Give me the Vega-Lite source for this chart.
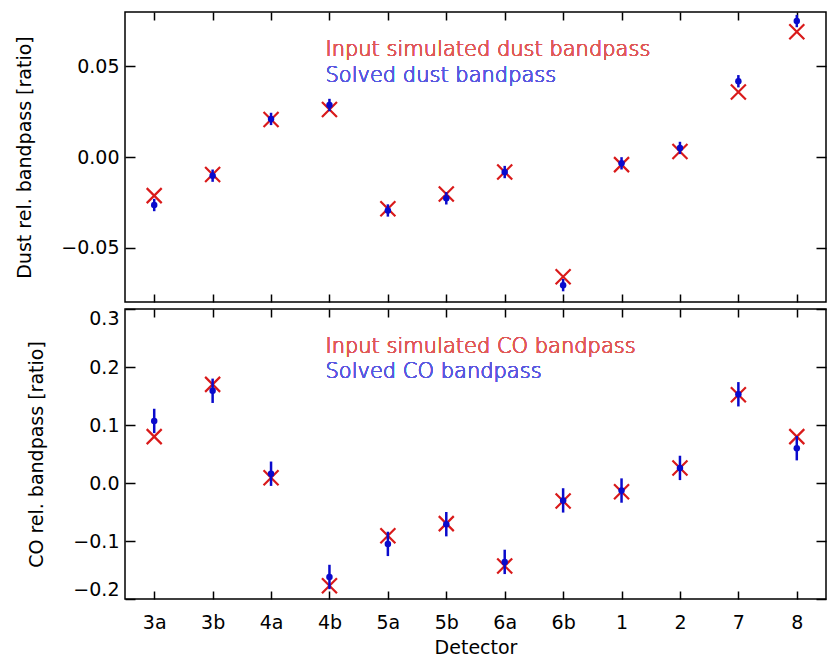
{
  "$schema": "https://vega.github.io/schema/vega-lite/v6.json",
  "padding": {"left": 15, "top": 10, "right": 4, "bottom": 4},
  "background": "white",
  "config": {
    "font": "DejaVu Sans",
    "view": {"stroke": "black", "strokeWidth": 1.5},
    "axis": {
      "grid": false, "domain": false,
      "tickColor": "black", "tickWidth": 1.5,
      "labelColor": "black", "titleColor": "black",
      "labelFontSize": 19, "titleFontSize": 19, "titleFontWeight": "normal",
      "labelFont": "DejaVu Sans", "titleFont": "DejaVu Sans",
      "minExtent": 0
    }
  },
  "datasets": {
    "dust": [
      {"det": "3a", "input": -0.0213, "solved": -0.0265, "lo": -0.0299, "hi": -0.0231},
      {"det": "3b", "input": -0.0097, "solved": -0.0103, "lo": -0.0137, "hi": -0.0069},
      {"det": "4a", "input": 0.0207, "solved": 0.0210, "lo": 0.0176, "hi": 0.0244},
      {"det": "4b", "input": 0.0262, "solved": 0.0287, "lo": 0.0253, "hi": 0.0321},
      {"det": "5a", "input": -0.0285, "solved": -0.0295, "lo": -0.0329, "hi": -0.0261},
      {"det": "5b", "input": -0.0204, "solved": -0.0228, "lo": -0.0262, "hi": -0.0194},
      {"det": "6a", "input": -0.0083, "solved": -0.0083, "lo": -0.0117, "hi": -0.0049},
      {"det": "6b", "input": -0.0661, "solved": -0.0707, "lo": -0.0741, "hi": -0.0673},
      {"det": "1", "input": -0.0042, "solved": -0.0035, "lo": -0.0069, "hi": -0.0001},
      {"det": "2", "input": 0.0030, "solved": 0.0050, "lo": 0.0016, "hi": 0.0084},
      {"det": "7", "input": 0.0359, "solved": 0.0418, "lo": 0.0384, "hi": 0.0452},
      {"det": "8", "input": 0.0691, "solved": 0.0750, "lo": 0.0716, "hi": 0.0784}
    ],
    "co": [
      {"det": "3a", "input": 0.080, "solved": 0.107, "lo": 0.086, "hi": 0.128},
      {"det": "3b", "input": 0.170, "solved": 0.159, "lo": 0.138, "hi": 0.180},
      {"det": "4a", "input": 0.009, "solved": 0.016, "lo": -0.005, "hi": 0.037},
      {"det": "4b", "input": -0.177, "solved": -0.162, "lo": -0.183, "hi": -0.141},
      {"det": "5a", "input": -0.091, "solved": -0.105, "lo": -0.126, "hi": -0.084},
      {"det": "5b", "input": -0.070, "solved": -0.071, "lo": -0.092, "hi": -0.050},
      {"det": "6a", "input": -0.143, "solved": -0.136, "lo": -0.157, "hi": -0.115},
      {"det": "6b", "input": -0.031, "solved": -0.030, "lo": -0.051, "hi": -0.009},
      {"det": "1", "input": -0.015, "solved": -0.013, "lo": -0.034, "hi": 0.008},
      {"det": "2", "input": 0.026, "solved": 0.026, "lo": 0.005, "hi": 0.047},
      {"det": "7", "input": 0.152, "solved": 0.153, "lo": 0.132, "hi": 0.174},
      {"det": "8", "input": 0.080, "solved": 0.060, "lo": 0.039, "hi": 0.081}
    ]
  },
  "resolve": {"scale": {"y": "independent"}},
  "spacing": 3,
  "vconcat": [
    {
      "width": 701, "height": 290,
      "data": {"name": "dust"},
      "resolve": {"axis": {"x": "independent", "y": "independent"}},
      "layer": [
        {
          "mark": {"type": "point", "shape": "M-1,-1L1,1M1,-1L-1,1", "filled": false, "stroke": "#d91a1a", "strokeWidth": 2.2, "size": 225, "opacity": 1},
          "encoding": {
            "x": {"field": "det", "type": "ordinal", "scale": {"type": "point", "padding": 0.5, "domain": ["3a","3b","4a","4b","5a","5b","6a","6b","1","2","7","8"]},
                  "axis": {"orient": "bottom", "labels": false, "title": null, "tickSize": -8, "minExtent": 0, "maxExtent": 0}},
            "y": {"field": "input", "type": "quantitative", "scale": {"domain": [-0.08, 0.08], "nice": false, "zero": false},
                  "axis": {"orient": "left", "title": "Dust rel. bandpass [ratio]", "values": [-0.05, 0, 0.05], "format": ".2f", "tickSize": -10, "labelPadding": 16, "titlePadding": 26}}
          }
        },
        {
          "mark": {"type": "rule", "color": "#0a0acc", "strokeWidth": 2.5},
          "encoding": {
            "x": {"field": "det", "type": "ordinal", "scale": {"type": "point", "padding": 0.5, "domain": ["3a","3b","4a","4b","5a","5b","6a","6b","1","2","7","8"]},
                  "axis": {"orient": "top", "labels": false, "title": null, "tickSize": -8, "minExtent": 0, "maxExtent": 0}},
            "y": {"field": "lo", "type": "quantitative", "scale": {"domain": [-0.08, 0.08], "nice": false, "zero": false},
                  "axis": {"orient": "right", "labels": false, "title": null, "values": [-0.05, 0, 0.05], "tickSize": -10, "minExtent": 0, "maxExtent": 0}},
            "y2": {"field": "hi"}
          }
        },
        {
          "mark": {"type": "circle", "color": "#0a0acc", "size": 42, "opacity": 1},
          "encoding": {
            "x": {"field": "det", "type": "ordinal", "scale": {"type": "point", "padding": 0.5, "domain": ["3a","3b","4a","4b","5a","5b","6a","6b","1","2","7","8"]}, "axis": null},
            "y": {"field": "solved", "type": "quantitative", "scale": {"domain": [-0.08, 0.08], "nice": false, "zero": false}, "axis": null}
          }
        },
        {
          "mark": {"type": "text", "text": "Input simulated dust bandpass", "color": "#e05858", "font": "DejaVu Sans ExtraLight, DejaVu Sans", "fontSize": 21, "fontWeight": 200, "align": "left", "baseline": "alphabetic", "dx": -4},
          "encoding": {
            "x": {"datum": "4b", "type": "ordinal", "scale": {"type": "point", "padding": 0.5, "domain": ["3a","3b","4a","4b","5a","5b","6a","6b","1","2","7","8"]}, "axis": null},
            "y": {"datum": 0.0556, "type": "quantitative", "scale": {"domain": [-0.08, 0.08], "nice": false, "zero": false}, "axis": null}
          }
        },
        {
          "mark": {"type": "text", "text": "Solved dust bandpass", "color": "#5858e0", "font": "DejaVu Sans ExtraLight, DejaVu Sans", "fontSize": 21, "fontWeight": 200, "align": "left", "baseline": "alphabetic", "dx": -4},
          "encoding": {
            "x": {"datum": "4b", "type": "ordinal", "scale": {"type": "point", "padding": 0.5, "domain": ["3a","3b","4a","4b","5a","5b","6a","6b","1","2","7","8"]}, "axis": null},
            "y": {"datum": 0.0413, "type": "quantitative", "scale": {"domain": [-0.08, 0.08], "nice": false, "zero": false}, "axis": null}
          }
        }
      ]
    },
    {
      "width": 701, "height": 290,
      "data": {"name": "co"},
      "resolve": {"axis": {"x": "independent", "y": "independent"}},
      "layer": [
        {
          "mark": {"type": "point", "shape": "M-1,-1L1,1M1,-1L-1,1", "filled": false, "stroke": "#d91a1a", "strokeWidth": 2.2, "size": 225, "opacity": 1},
          "encoding": {
            "x": {"field": "det", "type": "ordinal", "scale": {"type": "point", "padding": 0.5, "domain": ["3a","3b","4a","4b","5a","5b","6a","6b","1","2","7","8"]},
                  "axis": {"orient": "bottom", "title": "Detector", "labelAngle": 0, "tickSize": -8, "labelPadding": 22, "titlePadding": 6}},
            "y": {"field": "input", "type": "quantitative", "scale": {"domain": [-0.2, 0.3], "nice": false, "zero": false},
                  "axis": {"orient": "left", "title": "CO rel. bandpass [ratio]", "values": [-0.2, -0.1, 0, 0.1, 0.2, 0.3], "format": ".1f", "labelFlush": true, "tickSize": -10, "labelPadding": 16, "titlePadding": 26}}
          }
        },
        {
          "mark": {"type": "rule", "color": "#0a0acc", "strokeWidth": 2.5},
          "encoding": {
            "x": {"field": "det", "type": "ordinal", "scale": {"type": "point", "padding": 0.5, "domain": ["3a","3b","4a","4b","5a","5b","6a","6b","1","2","7","8"]},
                  "axis": {"orient": "top", "labels": false, "title": null, "tickSize": -8, "minExtent": 0, "maxExtent": 0}},
            "y": {"field": "lo", "type": "quantitative", "scale": {"domain": [-0.2, 0.3], "nice": false, "zero": false},
                  "axis": {"orient": "right", "labels": false, "title": null, "values": [-0.2, -0.1, 0, 0.1, 0.2, 0.3], "tickSize": -10, "minExtent": 0, "maxExtent": 0}},
            "y2": {"field": "hi"}
          }
        },
        {
          "mark": {"type": "circle", "color": "#0a0acc", "size": 42, "opacity": 1},
          "encoding": {
            "x": {"field": "det", "type": "ordinal", "scale": {"type": "point", "padding": 0.5, "domain": ["3a","3b","4a","4b","5a","5b","6a","6b","1","2","7","8"]}, "axis": null},
            "y": {"field": "solved", "type": "quantitative", "scale": {"domain": [-0.2, 0.3], "nice": false, "zero": false}, "axis": null}
          }
        },
        {
          "mark": {"type": "text", "text": "Input simulated CO bandpass", "color": "#e05858", "font": "DejaVu Sans ExtraLight, DejaVu Sans", "fontSize": 21, "fontWeight": 200, "align": "left", "baseline": "alphabetic", "dx": -4},
          "encoding": {
            "x": {"datum": "4b", "type": "ordinal", "scale": {"type": "point", "padding": 0.5, "domain": ["3a","3b","4a","4b","5a","5b","6a","6b","1","2","7","8"]}, "axis": null},
            "y": {"datum": 0.2235, "type": "quantitative", "scale": {"domain": [-0.2, 0.3], "nice": false, "zero": false}, "axis": null}
          }
        },
        {
          "mark": {"type": "text", "text": "Solved CO bandpass", "color": "#5858e0", "font": "DejaVu Sans ExtraLight, DejaVu Sans", "fontSize": 21, "fontWeight": 200, "align": "left", "baseline": "alphabetic", "dx": -4},
          "encoding": {
            "x": {"datum": "4b", "type": "ordinal", "scale": {"type": "point", "padding": 0.5, "domain": ["3a","3b","4a","4b","5a","5b","6a","6b","1","2","7","8"]}, "axis": null},
            "y": {"datum": 0.1803, "type": "quantitative", "scale": {"domain": [-0.2, 0.3], "nice": false, "zero": false}, "axis": null}
          }
        }
      ]
    }
  ]
}
